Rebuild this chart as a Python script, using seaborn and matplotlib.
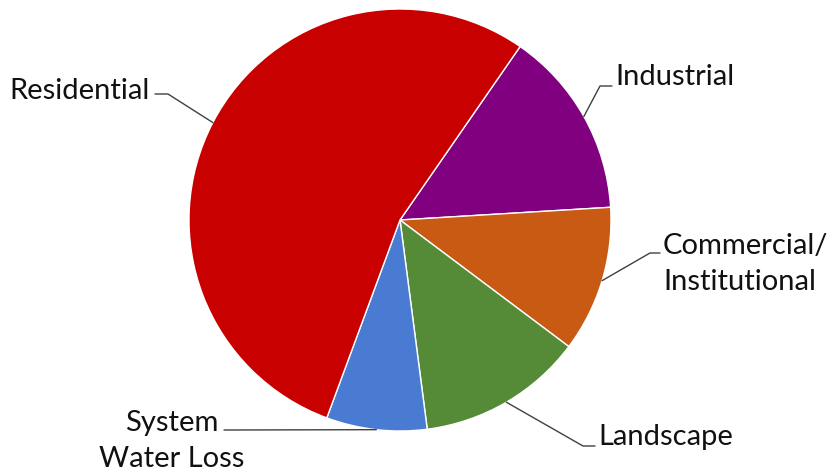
import numpy as np
import matplotlib
matplotlib.use("Agg")
import matplotlib.pyplot as plt
import seaborn as sns

# Water use by sector (share of total, %), clockwise from the top-right
sectors = ["Industrial", "Commercial/\nInstitutional", "Landscape", "System\nWater Loss", "Residential"]
shares = [14.4, 11.2, 12.7, 7.7, 54.0]
colors = ["#800080", "#C85A14", "#558A36", "#4A7BD3", "#C80000"]

sns.set_theme(style="white")
plt.rcParams["font.family"] = ["Lato", "DejaVu Sans"]

W, H = 835, 472
R = 211.0
cx, cy = 400, 220
fig = plt.figure(figsize=(W / 100, H / 100), dpi=100)
ax = fig.add_axes([0, 0, 1, 1])

wedges, _ = ax.pie(shares, colors=colors, startangle=55.3, counterclock=False,
                   radius=1.0, wedgeprops=dict(edgecolor="white", linewidth=1.0))

ax.set_xlim(-cx / R, (W - cx) / R)
ax.set_ylim(-(H - cy) / R, cy / R)
ax.set_aspect("auto")
ax.axis("off")

# label text anchor (pixels) and elbow point, per sector
layout = {
    "Industrial": dict(txt=(615, 77), ha="left", elbow=[(612, 86), (600, 86)]),
    "Commercial/\nInstitutional": dict(txt=(663, 264), ha="left", elbow=[(660, 253), (650, 253)]),
    "Landscape": dict(txt=(598, 437), ha="left", elbow=[(595, 446), (583, 446)]),
    "System\nWater Loss": dict(txt=(172, 441), ha="center", elbow=[(224, 430), (232, 430)]),
    "Residential": dict(txt=(150, 91), ha="right", elbow=[(155, 94), (168, 94)]),
}

def px(x, y):
    return (x - cx) / R, (cy - y) / R

for w, name in zip(wedges, sectors):
    mid = np.deg2rad((w.theta1 + w.theta2) / 2)
    edge = (np.cos(mid), np.sin(mid))
    lay = layout[name]
    pts = [px(*p) for p in lay["elbow"]] + [edge]
    ax.plot([p[0] for p in pts], [p[1] for p in pts], color="#404040", lw=1.0)
    tx, ty = px(*lay["txt"])
    ax.text(tx, ty, name, ha=lay["ha"], va="center", fontsize=21,
            color="#111111", linespacing=1.45)

fig.savefig("out.png", dpi=100, facecolor="white")
